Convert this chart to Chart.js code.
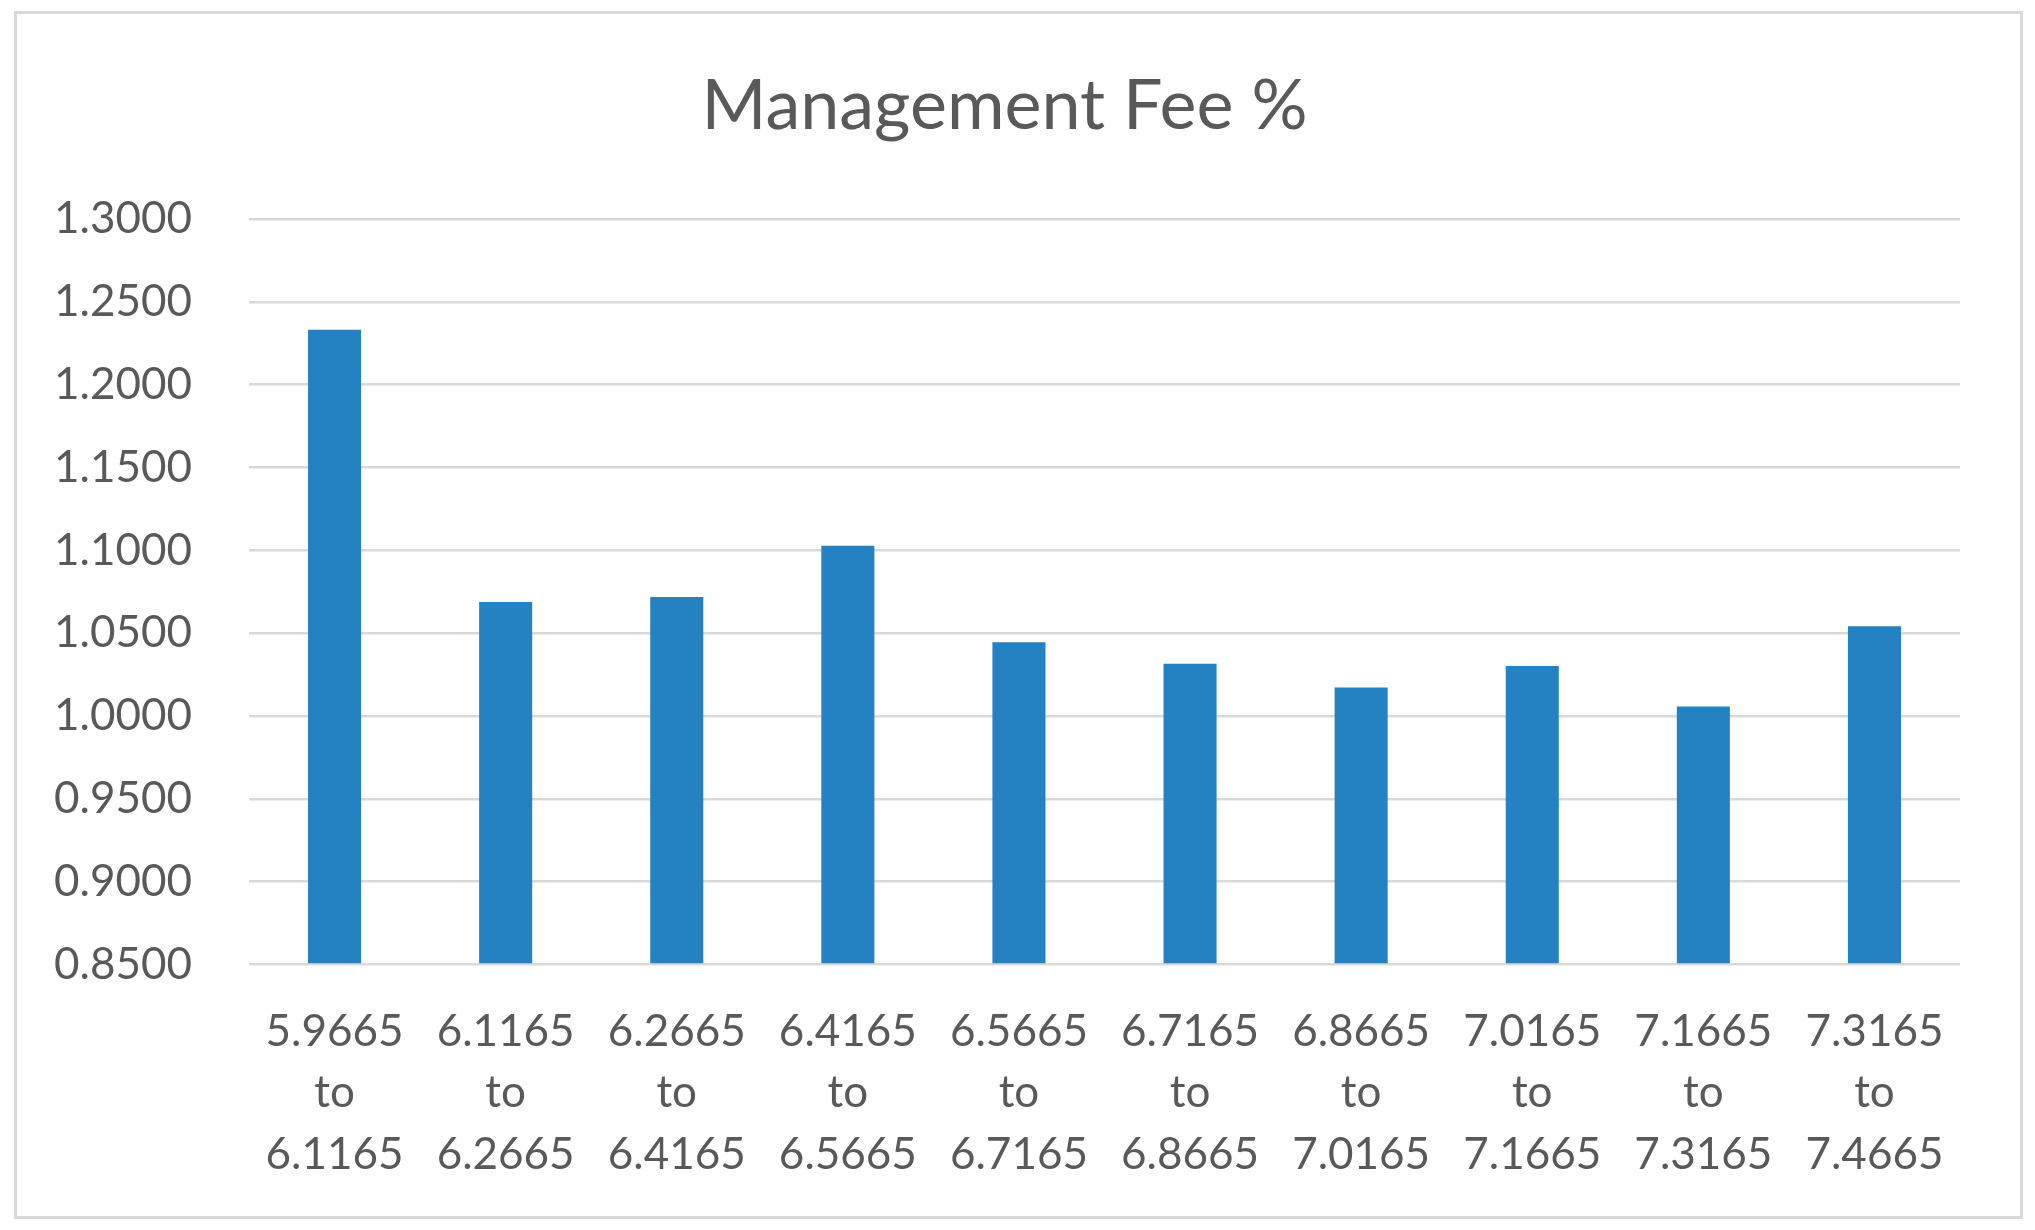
<!DOCTYPE html>
<html>
<head>
<meta charset="utf-8">
<title>Management Fee %</title>
<script src="https://cdn.jsdelivr.net/npm/chart.js@4.4.1/dist/chart.umd.min.js"></script>
<style>
  html, body { margin: 0; padding: 0; background: #fff; }
  #wrap { position: relative; width: 2035px; height: 1230px; }
  #frame {
    position: absolute; left: 14px; top: 11px; width: 2003px; height: 1202px;
    border: 3px solid #d9d9d9; pointer-events: none;
  }
  canvas { position: absolute; left: 0; top: 0; }
</style>
</head>
<body>
<div id="wrap">
  <canvas id="chartFee" width="2035" height="1230"></canvas>
  <div id="frame"></div>
</div>
<script>
/* ---- datos ---- */
const rangeFrom = ['5.9665', '6.1165', '6.2665', '6.4165', '6.5665', '6.7165', '6.8665', '7.0165', '7.1665', '7.3165'];
const rangeTo   = ['6.1165', '6.2665', '6.4165', '6.5665', '6.7165', '6.8665', '7.0165', '7.1665', '7.3165', '7.4665'];
const feeValues = [1.2332, 1.0688, 1.0719, 1.1027, 1.0445, 1.0315, 1.0172, 1.0302, 1.0058, 1.0542];
const yMin = 0.85;
const yMax = 1.30;
const yStep = 0.05;

const labels = rangeFrom.map((f, i) => [f, 'to', rangeTo[i]]);

const textColor = '#595959';
const gridColor = '#d9d9d9';
const fontFamily = 'Lato, "Open Sans", sans-serif';

/* ---- grafica ---- */
const ctx = document.getElementById('chartFee').getContext('2d');

new Chart(ctx, {
  type: 'bar',
  data: {
    labels: labels,
    datasets: [{
      label: 'Management Fee %',
      data: feeValues,
      backgroundColor: '#2481c2',
      categoryPercentage: 0.31,
      barPercentage: 1.0,
      base: yMin,
    }],
  },
  options: {
    responsive: false,
    animation: false,
    layout: { padding: { left: 49, right: 75, top: 0, bottom: 16 } },
    plugins: {
      legend: { display: false },
      tooltip: { enabled: false },
      title: {
        display: true,
        text: 'Management Fee %',
        color: textColor,
        font: { family: fontFamily, size: 70, weight: 'normal' },
        lineHeight: 1.2,
        padding: { top: 64, bottom: 71 },
      },
    },
    scales: {
      x: {
        grid: { display: false },
        border: { display: false },
        ticks: {
          color: textColor,
          font: { family: fontFamily, size: 44, lineHeight: 1.39 },
          padding: 29,
          maxRotation: 0,
          autoSkip: false,
        },
      },
      y: {
        min: yMin,
        max: yMax,
        afterFit: scale => { scale.width = 200; },
        grid: { color: gridColor, lineWidth: 2.5, drawTicks: false },
        border: { display: false },
        ticks: {
          stepSize: yStep,
          color: textColor,
          font: { family: fontFamily, size: 44 },
          padding: 57,
          callback: v => Number(v).toFixed(4),
        },
      },
    },
  },
});
</script>
</body>
</html>
